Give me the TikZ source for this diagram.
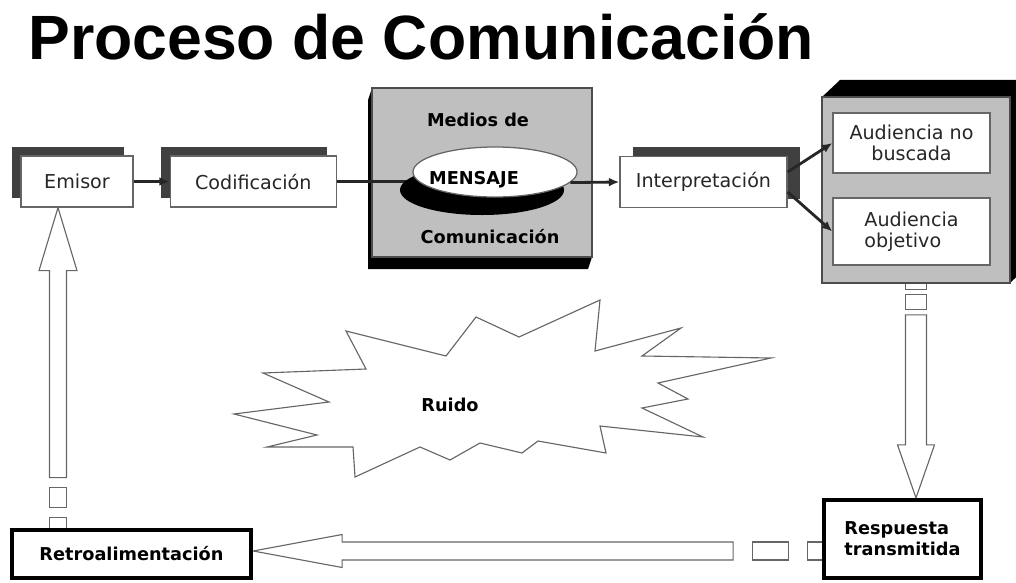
\documentclass[tikz,border=0pt]{standalone}
\usepackage{fontspec}
\setmainfont{DejaVu Sans}
\newfontfamily\titlefamily{Liberation Sans}
\usetikzlibrary{arrows.meta, positioning, shapes.geometric, calc, shadows, backgrounds}
\newcommand{\boxfont}{\fontsize{13.6pt}{15pt}\selectfont}
\newcommand{\boldboxfont}{\fontsize{12.6pt}{15pt}\selectfont\bfseries}
\tikzset{
	box/.style={rectangle, draw=black!60, fill=white, line width=0.9pt, inner sep=0pt, align=center, font=\boxfont, text=black!85},
	leftshadow/.style={box, drop shadow={shadow xshift=-0.225cm, shadow yshift=0.225cm, fill=black!75, opacity=1}},
	rightshadow/.style={box, drop shadow={shadow xshift=0.325cm, shadow yshift=0.225cm, fill=black!75, opacity=1}},
	thickbox/.style={rectangle, draw=black, fill=white, line width=3pt, inner sep=0pt, align=center, font=\boldboxfont},
	grayface/.style={rectangle, draw=black!70, fill=black!25, line width=0.9pt, inner sep=0pt},
	boldtext/.style={font=\boldboxfont, inner sep=0pt},
	arrow/.style={-{Latex[length=2.6mm, width=2.2mm]}, line width=2pt, draw=black!85},
	hollow/.style={draw=black!60, fill=white, line width=0.8pt, line join=miter},
	noise/.style={draw=black!60, fill=white, line width=0.8pt},
}
\begin{document}
\begin{tikzpicture}[x=0.025cm, y=-0.025cm]
	\useasboundingbox (0,0) rectangle (1016,583);
	\node[anchor=base west, inner sep=0pt, font=\titlefamily\bfseries\fontsize{44.5pt}{50pt}\selectfont] (title) at (28,60) {Proceso de Comunicación};
	% top row
	\node[leftshadow, minimum width=2.8cm, minimum height=1.275cm] (emisor) at (77,181.5) {Emisor};
	\node[leftshadow, minimum width=4.15cm, minimum height=1.275cm, right=0.9cm of emisor] (cod) {Codificación};
	\draw[arrow] (emisor) -- (cod);
	% medios de comunicacion
	\fill[black] (372,88) -- (368,100) -- (368,269) -- (588,269) -- (592,257) -- cycle;
	\node[grayface, minimum width=5.5cm, minimum height=4.225cm] (medios) at (482,172.5) {};
	\node[boldtext, anchor=base] (mediosup) at (478,127) {Medios de};
	\node[boldtext, anchor=base] (mediosdown) at (490,243) {Comunicación};
	\draw[line width=2pt, draw=black!85] (cod.east) -- ++(78,0);
	\node[ellipse, fill=black, minimum width=4.1cm, minimum height=1.25cm, inner sep=0pt] (msgshadow) at (482,190) {};
	\node[ellipse, draw=black!60, fill=white, line width=0.9pt, minimum width=4.1cm, minimum height=1.25cm, inner sep=0pt] (msg) at (495,172) {};
	\node[boldtext, anchor=base] (msgtext) at (474,185) {MENSAJE};
	\node[rightshadow, minimum width=4.175cm, minimum height=1.275cm] (interp) at (703.5,182) {Interpretación};
	\draw[arrow] (msg.-8) -- (interp.west);
	% audiencia
	\fill[black] (822,97) -- (840,80) -- (1028,80) -- (1028,266) -- (1010,283) -- cycle;
	\node[grayface, minimum width=4.7cm, minimum height=4.65cm] (panel) at (916,190) {};
	\node[box, minimum width=3.925cm, minimum height=1.5cm] (nobusc) at (911.5,143) {Audiencia no\\buscada};
	\node[box, minimum width=3.925cm, minimum height=1.675cm, align=left] (objetivo) at (911.5,231.5) {Audiencia\\objetivo};
	\draw[arrow] ([yshift=0.25cm]interp.east) -- (nobusc.west);
	\draw[arrow] ([yshift=-0.25cm]interp.east) -- (objetivo.west);
	% ruido
	\draw[noise] (234,414) -- (329,402) -- (263,373) -- (366,369) -- (346,331) -- (446,356) -- (476,317) -- (519,337) -- (600,300) -- (595,351) -- (681,328) -- (642,356) -- (771,358) -- (658,383) -- (688,399) -- (642,408) -- (703,437) -- (600,426) -- (606,453) -- (538,441) -- (522,453) -- (480,443) -- (450,460) -- (420,447) -- (355,477) -- (353,447) -- (267,447) -- (317,435) -- cycle;
	\node[boldtext] (ruido) at (450,405) {Ruido};
	% bottom row
	\node[thickbox, minimum width=5.975cm, minimum height=1.2cm] (retro) at (131.5,554) {Retroalimentación};
	\node[thickbox, minimum width=3.925cm, minimum height=1.95cm, align=left] (resp) at (902.5,539) {Respuesta\\transmitida};
	% block arrows
	\begin{scope}[on background layer]
		\coordinate (dnTip) at ($(resp.north)+(13.5,0)$);
		\draw[hollow] (dnTip) -- ++(-18.5,-53) -- ++(8,0) -- ++(0,-130) -- ++(21,0) -- ++(0,130) -- ++(8,0) -- cycle;
		\draw[hollow] (dnTip) ++(-10.5,-203) rectangle ++(21,15);
		\draw[hollow] (dnTip) ++(-10.5,-216) rectangle ++(21,8);
		\coordinate (ltTip) at ($(retro.east)+(0,-3)$);
		\draw[hollow] (ltTip) -- ++(89,-16.5) -- ++(0,7.5) -- ++(391,0) -- ++(0,18) -- ++(-391,0) -- ++(0,7.5) -- cycle;
		\draw[hollow] (ltTip) ++(499,-9) rectangle ++(36,18);
		\draw[hollow] (ltTip) ++(554,-9) rectangle ++(16,18);
		\coordinate (upTip) at ($(emisor.south)+(-19,0)$);
		\draw[hollow] (upTip) -- ++(19,63) -- ++(-10.5,0) -- ++(0,207) -- ++(-17,0) -- ++(0,-207) -- ++(-10.5,0) -- cycle;
		\draw[hollow] (upTip) ++(-8.5,280) rectangle ++(17,20);
		\draw[hollow] (upTip) ++(-8.5,310) rectangle ++(17,12);
	\end{scope}
\end{tikzpicture}
\end{document}
